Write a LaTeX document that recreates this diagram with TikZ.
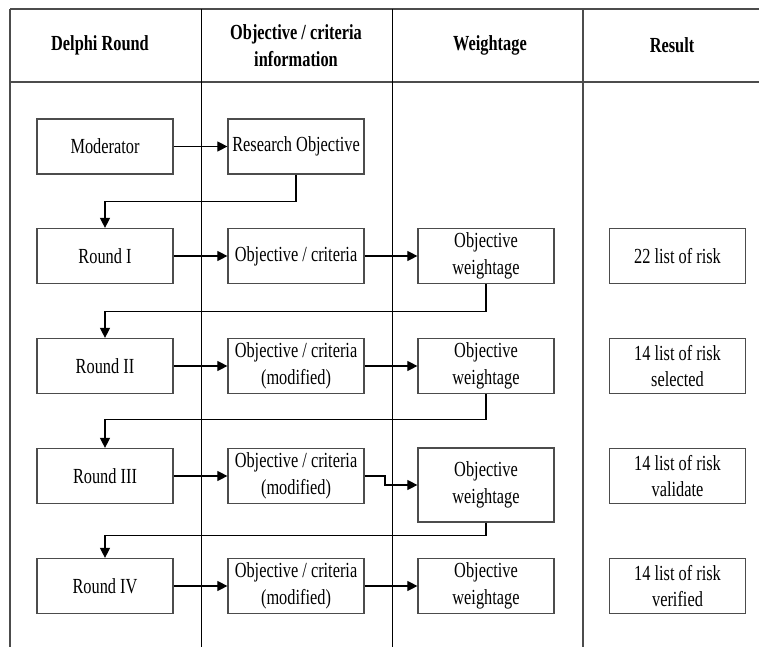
\documentclass[tikz,border=0pt]{standalone}
\usepackage{fontspec}
\setmainfont[FakeStretch=0.76]{Liberation Serif}
\usetikzlibrary{arrows.meta}
\begin{document}
\begin{tikzpicture}[x=1pt,y=-1pt,
  grid/.style={line width=1.1pt,draw=black!70},
  gridb/.style={line width=0.9pt,draw=black},
  box/.style={draw=black!70,line width=1.2pt,minimum width=136pt,minimum height=55pt,inner sep=0pt,align=center,font=\fontsize{21.5}{26.5}\selectfont},
  head/.style={align=center,font=\fontsize{21.5}{26.5}\selectfont\bfseries},
  arr/.style={line width=1.1pt,-{Triangle[length=10pt,width=10pt]}},
  ln/.style={line width=1.1pt}]
\useasboundingbox (0,0) rectangle (759,647);
% table lines
\draw[grid] (10,9) -- (759,9);
\draw[grid] (10,82) -- (759,82);
\draw[grid] (10,9) -- (10,647);
\draw[gridb] (201,9) -- (201,647);
\draw[gridb] (392,9) -- (392,647);
\draw[grid,line width=1.4pt] (583,9) -- (583,647);
% headers
\node[head] (h1) at (100,45.5) {Delphi Round};
\node[head] (h2) at (296,45.5) {Objective / criteria\\information};
\node[head] (h3) at (490,45.5) {Weightage};
\node[head] (h4) at (672,45.5) {Result};
% boxes
\node[box] (mod) at (105,146.5) {Moderator};
\node[box] (ro) at (296,146.5) {Research Objective};
\node[box] (r1) at (105,256) {Round I};
\node[box] (oc1) at (296,256) {Objective / criteria};
\node[box] (w1) at (486,256) {Objective\\weightage};
\node[box] (res1) at (677.5,256) {22 list of risk};
\node[box] (r2) at (105,366) {Round II};
\node[box] (oc2) at (296,366) {Objective / criteria\\(modified)};
\node[box] (w2) at (486,366) {Objective\\weightage};
\node[box] (res2) at (677.5,366) {14 list of risk\\selected};
\node[box] (r3) at (105,476) {Round III};
\node[box] (oc3) at (296,476) {Objective / criteria\\(modified)};
\node[box,minimum height=74pt] (w3) at (486,485) {Objective\\weightage};
\node[box] (res3) at (677.5,476) {14 list of risk\\validate};
\node[box] (r4) at (105,586) {Round IV};
\node[box] (oc4) at (296,586) {Objective / criteria\\(modified)};
\node[box] (w4) at (486,586) {Objective\\weightage};
\node[box] (res4) at (677.5,586) {14 list of risk\\verified};
% connectors
\draw[arr] (mod) -- (ro);
\draw[arr] (ro.south) -- ++(0,27) -| (r1.north);
\draw[arr] (r1) -- (oc1);
\draw[arr] (oc1) -- (w1);
\draw[arr] (w1.south) -- ++(0,27) -| (r2.north);
\draw[arr] (r2) -- (oc2);
\draw[arr] (oc2) -- (w2);
\draw[arr] (w2.south) -- ++(0,25) -| (r3.north);
\draw[arr] (r3) -- (oc3);
\coordinate (k) at (385,476);
\draw[arr] (oc3.east) -- (k) |- (w3.west);
\draw[arr] (w3.south) -- ++(0,13) -| (r4.north);
\draw[arr] (r4) -- (oc4);
\draw[arr] (oc4) -- (w4);
\end{tikzpicture}
\end{document}
